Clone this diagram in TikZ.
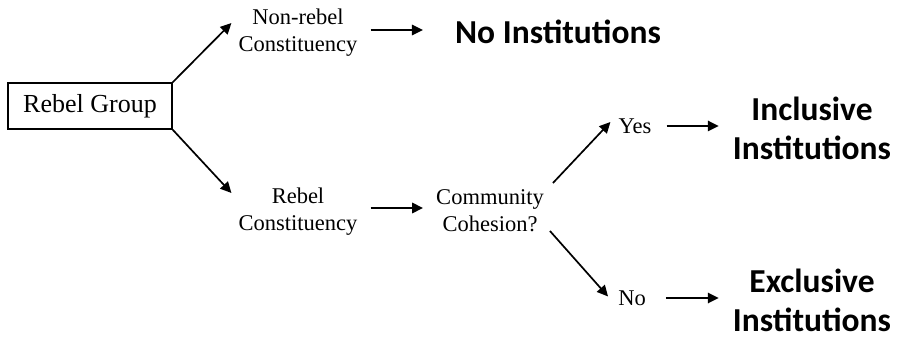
\documentclass[tikz,border=0pt]{standalone}
\usepackage{fontspec}
\setmainfont{Liberation Serif}
\newfontfamily\calibri{Carlito}
\usetikzlibrary{arrows.meta}
\tikzset{
  small/.style={inner sep=0pt, align=center, font=\fontsize{22.5}{27}\selectfont},
  big/.style={inner sep=0pt, align=center, font=\calibri\bfseries\fontsize{33.5}{39}\selectfont},
  boxnode/.style={draw, line width=1.2pt, inner sep=0pt, minimum width=164pt, minimum height=46pt, font=\fontsize{26}{30}\selectfont},
  arr/.style={line width=1.7pt, -{Triangle[length=11pt,width=10.5pt]}},
}
\begin{document}
\begin{tikzpicture}[x=1pt,y=-1pt]
\useasboundingbox (0,0) rectangle (897,339);
\node[boxnode] (rg) at (90,106) {Rebel Group};
\node[small] (nr) at (298,33) {Non-rebel\\Constituency};
\node[small] (rc) at (298,212) {Rebel\\Constituency};
\node[small] (cc) at (490,211) {Community\\Cohesion?};
\node[small] (yes) at (635,126) {Yes};
\node[small] (no) at (632,298) {No};
\node[big] (ni) at (558,32) {No Institutions};
\node[big] (inc) at (812,128) {Inclusive\\Institutions};
\node[big] (exc) at (812,300) {Exclusive\\Institutions};
\draw[arr] (rg.north east) -- ([shift={(-7pt,10pt)}]nr.west);
\draw[arr] (rg.south east) -- ([shift={(-7pt,19pt)}]rc.west);
\draw[arr, shorten <=13pt, shorten >=32pt] ([yshift=3pt]nr.east) -- ([yshift=3pt]nr.east -| ni.west);
\draw[arr, shorten <=13pt, shorten >=13pt] ([yshift=4pt]rc.east) -- ([yshift=4pt]rc.east -| cc.west);
\draw[arr] ([shift={(9pt,28pt)}]cc.east) -- ([shift={(-8pt,4pt)}]yes.west);
\draw[arr] ([shift={(6pt,-20pt)}]cc.east) -- ([shift={(-10pt,1.5pt)}]no.west);
\draw[arr, shorten <=15pt, shorten >=14pt] (yes.east) -- (yes.east -| inc.west);
\draw[arr, shorten <=20pt, shorten >=14pt] (no.east) -- (no.east -| exc.west);
\end{tikzpicture}
\end{document}
